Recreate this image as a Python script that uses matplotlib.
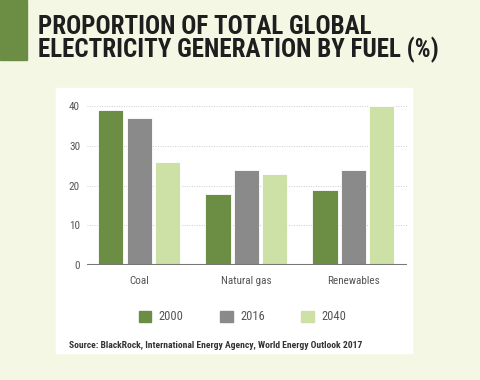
import matplotlib.pyplot as plt
import numpy as np
from matplotlib.patches import Rectangle, Patch

fuels = ["Coal", "Natural gas", "Renewables"]
years = ["2000", "2016", "2040"]
share_2000 = [39, 18, 19]
share_2016 = [37, 24, 24]
share_2040 = [26, 23, 40]
yticks = [0, 10, 20, 30, 40]

colors = ["#6b8e44", "#8a8a8a", "#cde0a5"]
bg = "#f5f7e5"
narrow = ["Roboto Condensed", "Roboto", "DejaVu Sans"]

fig = plt.figure(figsize=(4.8, 3.8), dpi=100)
fig.patch.set_facecolor(bg)

# green accent block and white panel behind the axes
fig.patches.append(Rectangle((0, 1 - 60 / 380), 27 / 480, 60 / 380,
                             transform=fig.transFigure, color="#6b8e44", zorder=-2))
fig.patches.append(Rectangle((56 / 480, 1 - 353 / 380), 356 / 480, 265 / 380,
                             transform=fig.transFigure, color="white", zorder=-2))

# baseline alignment of a two-line text goes by its last line
fig.text(38 / 480, 1 - 57 / 380,
         "PROPORTION OF TOTAL GLOBAL\nELECTRICITY GENERATION BY FUEL (%)",
         ha="left", va="baseline", fontsize=18, fontweight="bold", color="#1e1e1e",
         family=narrow, linespacing=0.86)

ax = fig.add_axes([87 / 480, 1 - 265 / 380, 320 / 480, (265 - 98.3) / 380])
ax.set_zorder(2)
ax.set_facecolor("white")

x = np.arange(len(fuels))
width = 0.234
step = 0.266
for i, (vals, c) in enumerate(zip([share_2000, share_2016, share_2040], colors)):
    ax.bar(x + (i - 1) * step, vals, width=width, color=c, edgecolor="white",
           linewidth=0.6, label=years[i], zorder=3)

ax.set_xlim(-0.49, 2.5)
ax.set_ylim(0, 42)
ax.set_yticks(yticks)
ax.set_xticks(x)
ax.set_xticklabels(fuels)
for t in ax.get_xticklabels() + ax.get_yticklabels():
    t.set_family(narrow)
    t.set_fontsize(8)
    t.set_color("#555555")
ax.tick_params(length=0, pad=5)
ax.tick_params(axis="x", pad=8)

for y in yticks[1:]:
    ax.axhline(y, color="#cccccc", linestyle=(0, (1, 1.5)), linewidth=0.7, zorder=1)
ax.axhline(0, color="#777777", linewidth=1.5, zorder=4)
for s in ax.spines.values():
    s.set_visible(False)

handles = [Patch(color=c, label=y) for c, y in zip(colors, years)]
leg = fig.legend(handles=handles, loc="center", bbox_to_anchor=(0.505, 1 - 317 / 380),
                 ncol=3, frameon=False, handlelength=1.0, handleheight=1.0,
                 handletextpad=0.6, columnspacing=2.9,
                 prop={"family": narrow, "size": 9})
for t in leg.get_texts():
    t.set_color("#555555")

fig.text(69 / 480, 1 - 346 / 380,
         "Source: BlackRock, International Energy Agency, World Energy Outlook 2017",
         ha="left", va="center", fontsize=6.8, color="#333333", family=narrow,
         fontweight="bold")

fig.savefig("out.png", dpi=100, facecolor=bg)
